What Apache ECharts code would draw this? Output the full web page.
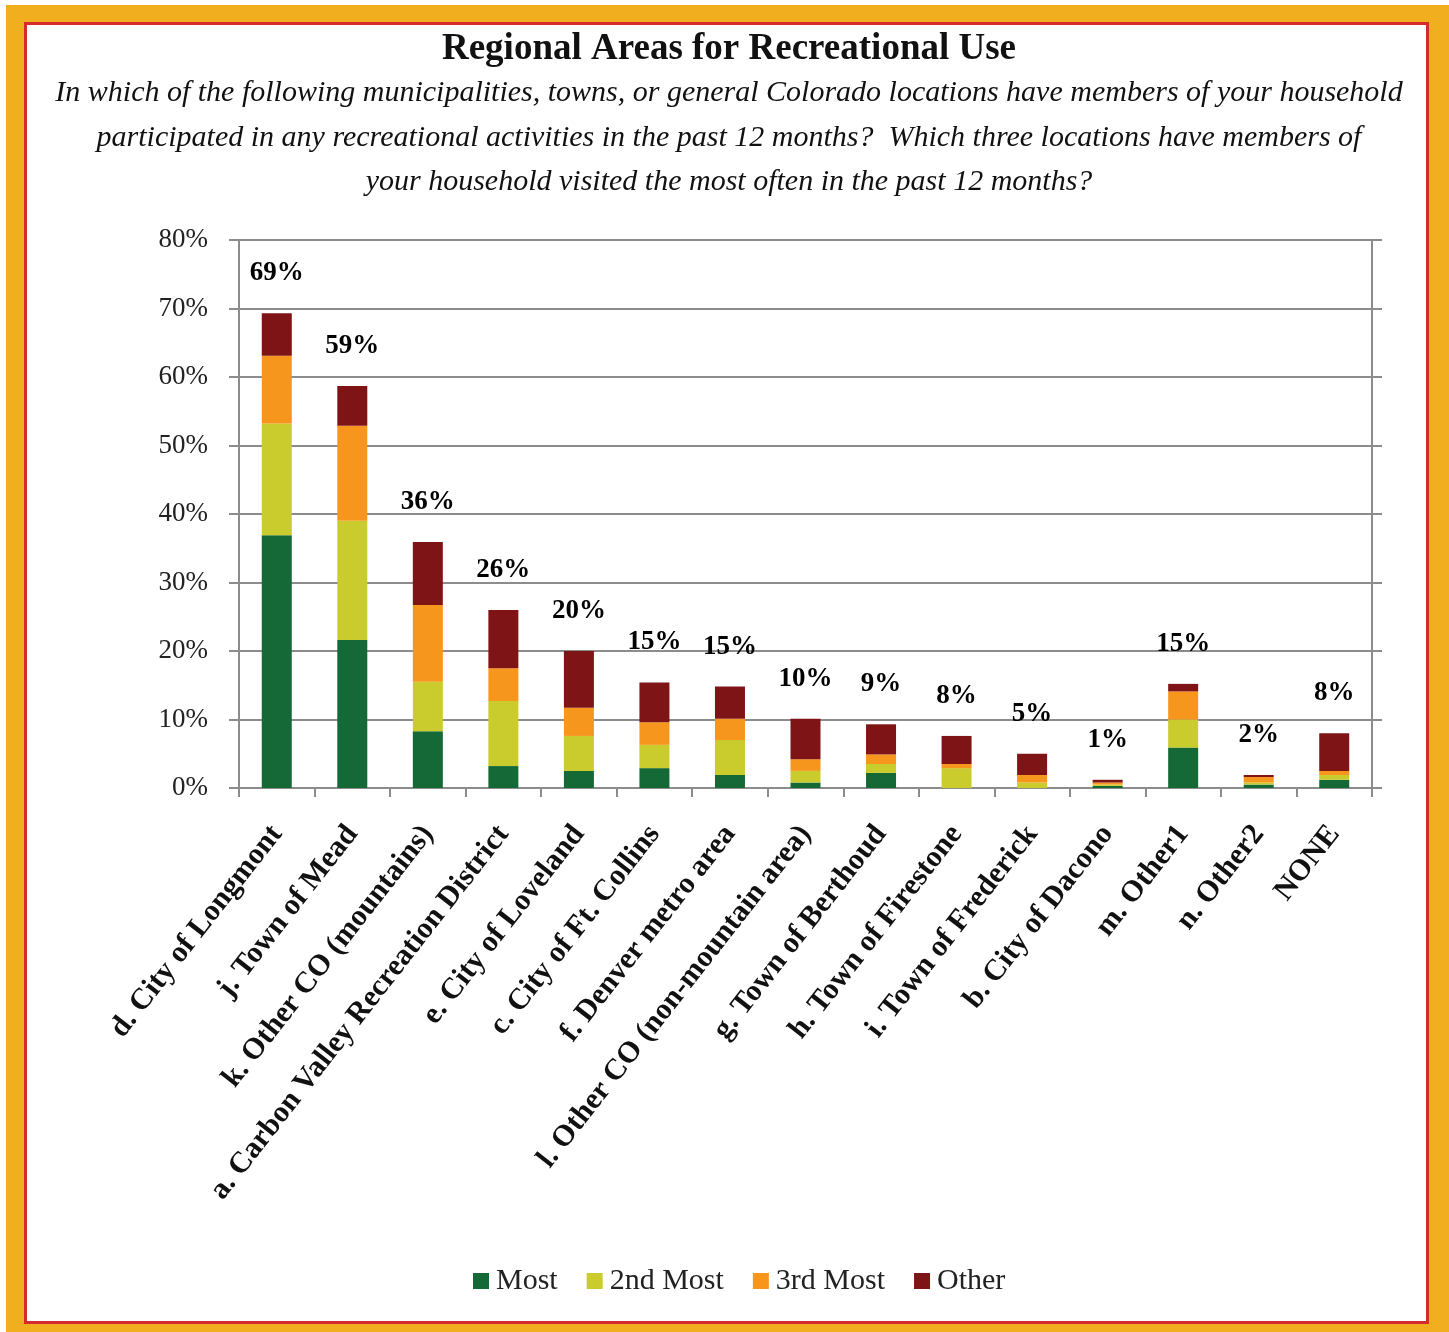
<!DOCTYPE html>
<html>
<head>
<meta charset="utf-8">
<script src="https://cdn.jsdelivr.net/npm/echarts@6/dist/echarts.min.js"></script>
<style>
  html, body { margin: 0; padding: 0; background: #ffffff; }
  #chart { width: 1449px; height: 1332px; }
</style>
</head>
<body>
<div id="chart"></div>
<script>
// Locations, in the order shown along the x axis
const categories = [
  'd. City of Longmont',
  'j. Town of Mead',
  'k. Other CO (mountains)',
  'a. Carbon Valley Recreation District',
  'e. City of Loveland',
  'c. City of Ft. Collins',
  'f. Denver metro area',
  'l. Other CO (non-mountain area)',
  'g. Town of Berthoud',
  'h. Town of Firestone',
  'i. Town of Frederick',
  'b. City of Dacono',
  'm. Other1',
  'n. Other2',
  'NONE'
];

// Share of households (%) by how often the location was visited
const most     = [36.9, 21.6,  8.3, 3.2, 2.5, 2.9, 1.9, 0.8, 2.2, 0.0, 0.0, 0.3, 5.9, 0.5, 1.2];
const second   = [16.3, 17.4,  7.2, 9.5, 5.1, 3.4, 5.1, 1.7, 1.3, 2.9, 0.8, 0.2, 4.1, 0.3, 0.7];
const third    = [ 9.9, 13.9, 11.2, 4.8, 4.1, 3.3, 3.1, 1.7, 1.4, 0.6, 1.1, 0.3, 4.1, 0.8, 0.6];
const other    = [ 6.2,  5.8,  9.2, 8.5, 8.3, 5.8, 4.7, 5.9, 4.4, 4.1, 3.1, 0.4, 1.1, 0.3, 5.5];

const yTicks = [0, 10, 20, 30, 40, 50, 60, 70, 80];

const seriesNames = ['Most', '2nd Most', '3rd Most', 'Other'];
const seriesColors = ['#146936', '#c9cc2c', '#f7961d', '#7e1416'];

// Total participation per location = sum of the four stacked segments
const totals = categories.map((_, i) => +(most[i] + second[i] + third[i] + other[i]).toFixed(1));

const serif = '"Liberation Serif", "DejaVu Serif", serif';
const gridColor = '#8c8c8c';

const chart = echarts.init(document.getElementById('chart'), null, { renderer: 'canvas' });

const stackData = [most, second, third, other];

const option = {
  animation: false,
  backgroundColor: '#ffffff',
  graphic: [
    // Orange frame with a thin red inner rule
    {
      type: 'rect', z: -10, silent: true,
      shape: { x: 6, y: 5, width: 1443, height: 1327 },
      style: { fill: '#f1ae1f' }
    },
    {
      type: 'rect', z: -9, silent: true,
      shape: { x: 25.5, y: 23.5, width: 1402, height: 1299 },
      style: { fill: '#ffffff', stroke: '#d42b2b', lineWidth: 3 }
    }
  ],
  title: {
    left: 724,
    top: 26,
    textAlign: 'center',
    text: 'Regional Areas for Recreational Use',
    textStyle: {
      fontFamily: serif, fontWeight: 'bold', fontSize: 37, color: '#111111'
    },
    subtext: 'In which of the following municipalities, towns, or general Colorado locations have members of your household\n' +
             'participated in any recreational activities in the past 12 months?  Which three locations have members of\n' +
             'your household visited the most often in the past 12 months?',
    subtextStyle: {
      fontFamily: serif, fontStyle: 'italic', fontSize: 30, color: '#111111',
      lineHeight: 44.5, align: 'center'
    },
    itemGap: 3
  },
  legend: {
    data: seriesNames,
    bottom: 31,
    left: 468,
    itemWidth: 16,
    itemHeight: 16,
    itemGap: 29,
    icon: 'rect',
    textStyle: { fontFamily: serif, fontSize: 30, color: '#222222', padding: [0, 0, 0, 2] }
  },
  grid: {
    left: 239,
    right: 77,
    top: 240,
    bottom: 544,
    containLabel: false
  },
  xAxis: {
    type: 'category',
    data: categories,
    boundaryGap: true,
    axisLine: { show: true, lineStyle: { color: gridColor, width: 2 } },
    axisTick: { show: true, length: 9, lineStyle: { color: gridColor, width: 2 } },
    axisLabel: {
      interval: 0,
      rotate: 52,
      margin: 41,
      fontFamily: serif,
      fontWeight: 'bold',
      fontSize: 30,
      color: '#111111'
    }
  },
  yAxis: [
    {
      type: 'value',
      min: yTicks[0],
      max: yTicks[yTicks.length - 1],
      interval: 10,
      axisLine: { show: true, lineStyle: { color: gridColor, width: 2 } },
      axisTick: { show: true, length: 10, lineStyle: { color: gridColor, width: 2 } },
      splitLine: { show: true, lineStyle: { color: gridColor, width: 2 } },
      axisLabel: {
        formatter: '{value}%',
        margin: 31,
        fontFamily: serif,
        fontSize: 27,
        color: '#222222'
      }
    },
    {
      type: 'value',
      position: 'right',
      min: yTicks[0],
      max: yTicks[yTicks.length - 1],
      interval: 10,
      axisLine: { show: true, lineStyle: { color: gridColor, width: 2 } },
      axisTick: { show: true, length: 10, lineStyle: { color: gridColor, width: 2 } },
      splitLine: { show: false },
      axisLabel: { show: false }
    }
  ],
  series: [
    ...seriesNames.map((name, k) => ({
      name,
      type: 'bar',
      stack: 'visits',
      barWidth: 30,
      data: stackData[k],
      itemStyle: { color: seriesColors[k] }
    })),
    {
      name: 'Total',
      type: 'scatter',
      data: totals,
      symbolSize: 1,
      itemStyle: { color: 'rgba(0,0,0,0)', opacity: 1 },
      label: {
        show: true,
        position: 'top',
        distance: 26,
        formatter: p => Math.round(p.value) + '%',
        fontFamily: serif,
        fontWeight: 'bold',
        fontSize: 27,
        color: '#000000',
        opacity: 1
      },
      z: 5
    }
  ]
};

chart.setOption(option);
</script>
</body>
</html>
